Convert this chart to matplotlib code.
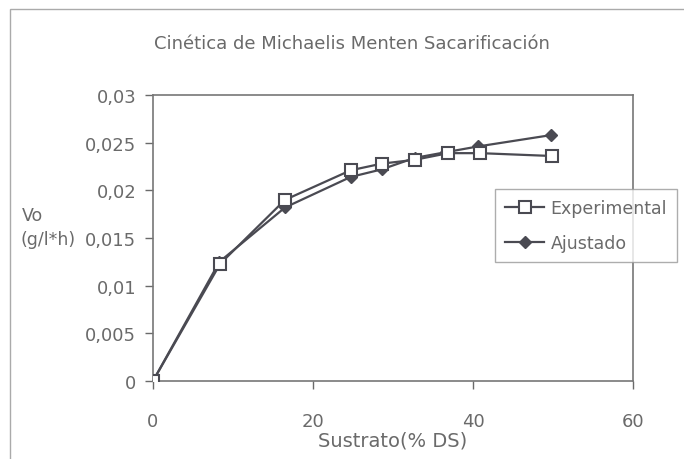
import matplotlib.pyplot as plt
from matplotlib.patches import Rectangle

plt.rcParams['font.family'] = ['DejaVu Sans']

sustrato = [0, 8.4, 16.5, 24.7, 28.6, 32.7, 36.9, 40.9, 49.9]
experimental = [0, 0.0123, 0.0190, 0.0221, 0.0228, 0.0232, 0.0239, 0.0239, 0.0236]

sustrato_aj = [0, 8.3, 16.5, 24.7, 28.6, 32.7, 36.6, 40.6, 49.8]
ajustado = [0, 0.0125, 0.0182, 0.0214, 0.0222, 0.0234, 0.0240, 0.0246, 0.0258]

line_col = "#4a4a52"
text_col = "#6a6a6a"

fig = plt.figure(figsize=(6.84, 4.60), dpi=100)
ax = fig.add_axes([153/684, 1 - 382/460, (633 - 153)/684, (382 - 96)/460])

ax.plot(sustrato, experimental, color=line_col, lw=1.6, marker="s", ms=8,
        mfc="white", mec=line_col, mew=1.5, label="Experimental", zorder=3)
ax.plot(sustrato_aj, ajustado, color=line_col, lw=1.6, marker="D", ms=6,
        mfc=line_col, mec=line_col, label="Ajustado", zorder=2)

ax.set_xlim(0, 60)
ax.set_ylim(0, 0.03)
ax.set_xticks([0, 20, 40, 60])
ax.set_yticks([0, 0.005, 0.01, 0.015, 0.02, 0.025, 0.03])
ax.set_yticklabels(["0", "0,005", "0,01", "0,015", "0,02", "0,025", "0,03"])
ax.tick_params(colors=text_col, labelsize=13, length=6, width=1)
ax.tick_params(axis="x", pad=16)
ax.tick_params(axis="y", pad=6)
for s in ax.spines.values():
    s.set_color("#777777")
    s.set_linewidth(1.2)
ax.set_xlabel("Sustrato(% DS)", color=text_col, fontsize=14, labelpad=1)

fig.text(22/684, 1 - 216/460, "Vo", color=text_col, fontsize=12.5, va="center")
fig.text(20/684, 1 - 240/460, "(g/l*h)", color=text_col, fontsize=12.5, va="center")
fig.text(352/684, 1 - 44/460, "Cinética de Michaelis Menten Sacarificación",
         color=text_col, fontsize=13, ha="center", va="center")

leg = fig.legend(loc="upper left", bbox_to_anchor=(495/684, 1 - 190/460),
                 fontsize=12.5, frameon=True, fancybox=False, handlelength=2.2,
                 handletextpad=0.4, labelcolor=text_col, borderpad=0.6,
                 borderaxespad=0, labelspacing=0.95)
leg.get_frame().set_edgecolor("#999999")
leg.get_frame().set_linewidth(1)

fig.patches.append(Rectangle((10/684, -0.1), 1.2, 1 - 10/460 + 0.1,
                             transform=fig.transFigure, fill=False,
                             edgecolor="#aaaaaa", lw=1))

fig.savefig("out.png", dpi=100)
